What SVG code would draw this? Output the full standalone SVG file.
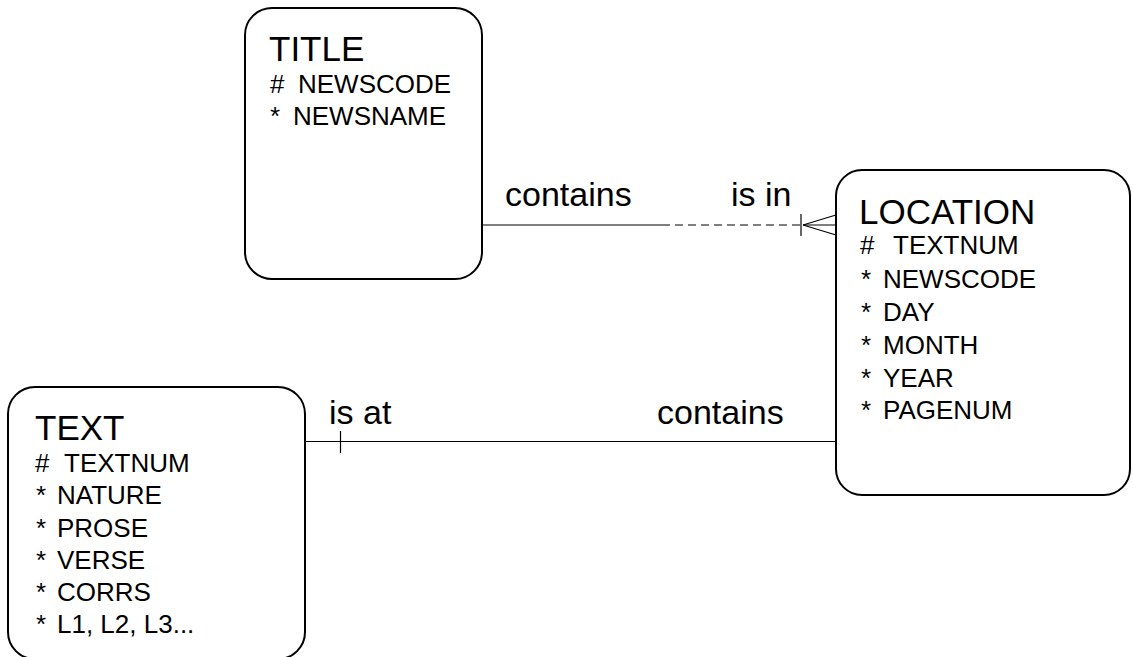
<svg xmlns="http://www.w3.org/2000/svg" width="1133" height="657" viewBox="0 0 1133 657">
<style>
.box{fill:#fff;stroke:#000;stroke-width:2}
.ln{fill:none;stroke:#000;stroke-width:1.2}
text{font-family:"Liberation Sans",Arial,sans-serif;fill:#000}
.ttl{font-size:35px}
.att{font-size:26px}
.lbl{font-size:34px}
</style>
<rect width="1133" height="657" fill="#fff"/>
<g id="connectors">
<line class="ln" x1="482" y1="225" x2="662" y2="225"/>
<line class="ln" x1="662" y1="225" x2="803" y2="225" stroke-dasharray="8 5"/>
<line class="ln" x1="803" y1="225" x2="836" y2="225"/>
<line class="ln" x1="801" y1="214" x2="801" y2="236"/>
<line class="ln" x1="803" y1="225" x2="836" y2="215"/>
<line class="ln" x1="803" y1="225" x2="836" y2="235"/>
<text class="lbl" x="505" y="206">contains</text>
<text class="lbl" x="731" y="206">is in</text>
<line class="ln" x1="305" y1="441.5" x2="836" y2="441.5"/>
<line class="ln" x1="340.5" y1="431" x2="340.5" y2="453"/>
<text class="lbl" x="329" y="424">is at</text>
<text class="lbl" x="657" y="424">contains</text>
</g>
<g id="title">
<rect class="box" x="245" y="8" width="237" height="271" rx="27"/>
<text class="ttl" x="269" y="61">TITLE</text>
<text class="att" x="270" y="93">#</text><text class="att" x="298" y="93">NEWSCODE</text>
<text class="att" x="270" y="125">*</text><text class="att" x="293" y="125">NEWSNAME</text>
</g>
<g id="location">
<rect class="box" x="836" y="170" width="294" height="325" rx="26"/>
<text class="ttl" x="859" y="224">LOCATION</text>
<text class="att" x="860" y="254">#</text><text class="att" x="893" y="254">TEXTNUM</text>
<text class="att" x="861" y="288">*</text><text class="att" x="883" y="288">NEWSCODE</text>
<text class="att" x="861" y="321">*</text><text class="att" x="883" y="321">DAY</text>
<text class="att" x="861" y="354">*</text><text class="att" x="883" y="354">MONTH</text>
<text class="att" x="861" y="387">*</text><text class="att" x="883" y="387">YEAR</text>
<text class="att" x="861" y="419">*</text><text class="att" x="883" y="419">PAGENUM</text>
</g>
<g id="text">
<rect class="box" x="8" y="387" width="297" height="272" rx="27"/>
<text class="ttl" x="35" y="440">TEXT</text>
<text class="att" x="35" y="472">#</text><text class="att" x="64" y="472">TEXTNUM</text>
<text class="att" x="36" y="504">*</text><text class="att" x="57" y="504">NATURE</text>
<text class="att" x="36" y="537">*</text><text class="att" x="57" y="537">PROSE</text>
<text class="att" x="36" y="569">*</text><text class="att" x="57" y="569">VERSE</text>
<text class="att" x="36" y="601">*</text><text class="att" x="57" y="601">CORRS</text>
<text class="att" x="36" y="633">*</text><text class="att" x="57" y="633">L1, L2, L3...</text>
</g>
</svg>
